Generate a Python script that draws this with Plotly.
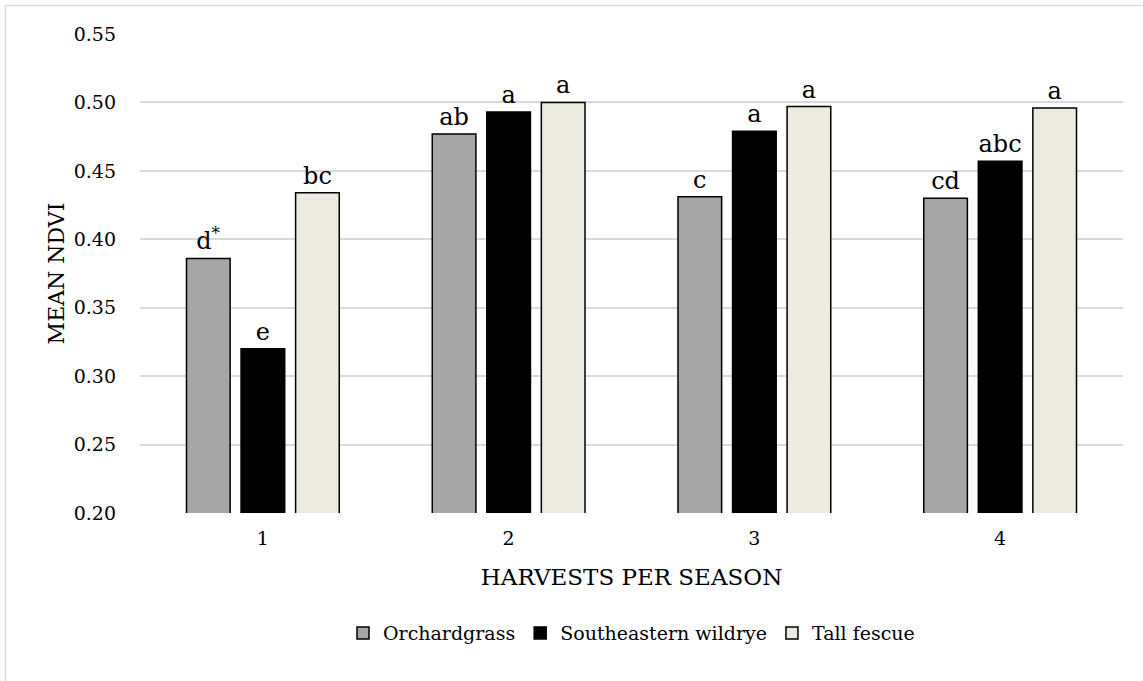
import plotly.graph_objects as go

categories = ["1", "2", "3", "4"]
series_names = ["Orchardgrass", "Southeastern wildrye", "Tall fescue"]
orchardgrass = [0.386, 0.477, 0.431, 0.430]
se_wildrye = [0.320, 0.493, 0.479, 0.457]
tall_fescue = [0.434, 0.500, 0.497, 0.496]
orch_letters = ["d<sup>*</sup>", "ab", "c", "cd"]
se_letters = ["e", "a", "a", "abc"]
tf_letters = ["bc", "a", "a", "a"]
y_ticks = [0.20, 0.25, 0.30, 0.35, 0.40, 0.45, 0.50, 0.55]

FONT = "DejaVu Serif"
colors = ["#A6A6A6", "#000000", "#EDEBE0"]
values = [orchardgrass, se_wildrye, tall_fescue]
letters = [orch_letters, se_letters, tf_letters]

fig = go.Figure()
for name, vals, col, txt in zip(series_names, values, colors, letters):
    fig.add_trace(go.Bar(
        x=categories, y=vals, name=name,
        marker=dict(color=col, line=dict(color="#000000", width=1.5)),
        text=txt, textposition="outside", cliponaxis=False,
        constraintext="none",
        textfont=dict(family=FONT, size=24, color="#000000"),
    ))

fig.update_layout(
    width=1143, height=681,
    margin=dict(l=140, r=20, t=34, b=168),
    paper_bgcolor="white", plot_bgcolor="white",
    barmode="group", bargap=0.334, bargroupgap=0.2,
    font=dict(family=FONT, size=19, color="#000000"),
    showlegend=True,
    legend=dict(orientation="h", x=0.5, xanchor="center", y=-0.211, yanchor="top",
                font=dict(family=FONT, size=19, color="#000000")),
    xaxis=dict(type="category", showgrid=False, showline=False, ticks="",
               ticklabelstandoff=12,
               tickfont=dict(family=FONT, size=19),
               title=dict(text="HARVESTS PER SEASON", standoff=20,
                          font=dict(family=FONT, size=23))),
    yaxis=dict(range=[0.2, 0.55], tickvals=y_ticks, tickformat=".2f",
               showgrid=True, gridcolor="#D9D9D9", gridwidth=1.5,
               zeroline=False, showline=False, ticks="",
               ticklabelstandoff=23,
               tickfont=dict(family=FONT, size=19),
               title=dict(text="MEAN NDVI", standoff=2,
                          font=dict(family=FONT, size=22))),
    shapes=[
        dict(type="line", xref="paper", yref="paper",
             x0=(5.5 - 140) / 983, x1=(1150 - 140) / 983,
             y0=(513 - 5.5) / 479, y1=(513 - 5.5) / 479,
             line=dict(color="#D9D9D9", width=1.5)),
        dict(type="line", xref="paper", yref="paper",
             x0=(5.5 - 140) / 983, x1=(5.5 - 140) / 983,
             y0=(513 - 5.5) / 479, y1=(513 - 700) / 479,
             line=dict(color="#D9D9D9", width=1.5)),
    ],
)

fig.write_html("out.html")
